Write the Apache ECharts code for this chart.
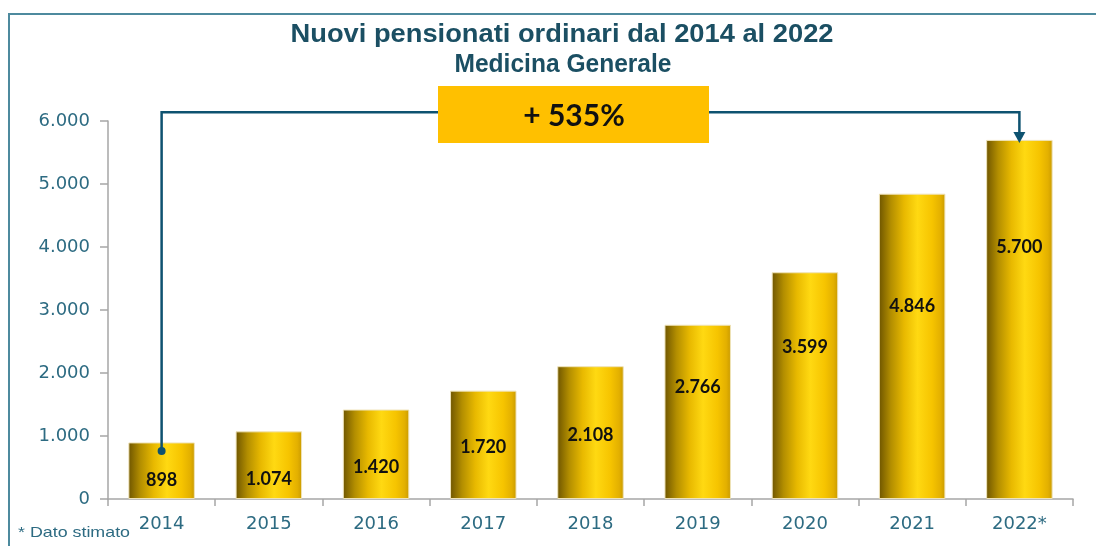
<!DOCTYPE html>
<html>
<head>
<meta charset="utf-8">
<script src="https://cdn.jsdelivr.net/npm/echarts@6/dist/echarts.min.js"></script>
<style>
html,body{margin:0;padding:0;background:#fff;}
#c{width:1096px;height:546px;}
</style>
</head>
<body>
<div id="c"></div>
<script>
const categories = ['2014','2015','2016','2017','2018','2019','2020','2021','2022*'];
const values = [898, 1074, 1420, 1720, 2108, 2766, 3599, 4846, 5700];
const yTicks = [0, 1000, 2000, 3000, 4000, 5000, 6000];
const growthLabel = '+ 535%';
const titleLines = ['Nuovi pensionati ordinari dal 2014 al 2022', 'Medicina Generale'];
const footnote = '* Dato stimato';
// label placement inside each bar (percent from bar top)
const labelPct = [66, 71, 64, 52, 52, 36, 33, 37, 30];

function fmt(v){ return String(v).replace(/\B(?=(\d{3})+(?!\d))/g, '.'); }

function measure(text, font){
  const c = document.createElement('canvas').getContext('2d');
  c.font = font; return c.measureText(text).width;
}

const chart = echarts.init(document.getElementById('c'));
const barGrad = new echarts.graphic.LinearGradient(0,0,1,0,[
  {offset:0, color:'#6e5500'},
  {offset:0.18, color:'#b38e00'},
  {offset:0.38, color:'#e8b900'},
  {offset:0.58, color:'#ffd912'},
  {offset:0.8, color:'#f6c400'},
  {offset:0.93, color:'#e3b000'},
  {offset:1, color:'#c99a00'}
]);

const axisFont = 'DejaVu Sans';
chart.setOption({
  animation:false,
  grid:{left:108, right:23, top:121, bottom:47},
  xAxis:{
    type:'category', data:categories, boundaryGap:true,
    axisLine:{lineStyle:{color:'#a6a6a6', width:1.5}},
    axisTick:{show:true, length:7, lineStyle:{color:'#a6a6a6', width:1.5}},
    axisLabel:{fontFamily:axisFont, fontSize:18, color:'#2d6b82', margin:16}
  },
  yAxis:{
    type:'value', min:0, max:6000, interval:1000,
    axisLine:{show:true, lineStyle:{color:'#a6a6a6', width:1.5}},
    axisTick:{show:true, length:8, lineStyle:{color:'#a6a6a6', width:1.5}},
    splitLine:{show:false},
    axisLabel:{fontFamily:axisFont, fontSize:18, color:'#2d6b82', margin:18,
      formatter:function(v){ return yTicks.indexOf(v)>=0 ? fmt(v) : ''; }}
  },
  series:[{
    type:'bar', barWidth:'62%',
    data: values.map(function(v,i){
      return {value:v, label:{position:['50%', labelPct[i]+'%']}};
    }),
    itemStyle:{color:barGrad, borderColor:'#efe3b8', borderWidth:1},
    label:{show:true, align:'center', verticalAlign:'middle',
      fontFamily:'Lato', fontWeight:'bold', fontSize:18, color:'#111',
      formatter:function(p){ return fmt(p.value); }}
  }]
});

function drawAnnot(){
  const p0 = chart.convertToPixel({seriesIndex:0}, [0, values[0]]);
  const pN = chart.convertToPixel({seriesIndex:0}, [values.length-1, values[values.length-1]]);
  const dotY = chart.convertToPixel({yAxisIndex:0}, values[0]*0.85);
  const topY = chart.convertToPixel({yAxisIndex:0}, 6140);
  const tipY = pN[1] + 3;
  const col = '#0e5270';
  const tFont = 'bold 26px "Liberation Sans"';
  const s1 = 543 / measure(titleLines[0], tFont);
  const s2 = 217 / measure(titleLines[1], tFont);
  const fFont = '15px "Liberation Sans"';
  const sf = 112 / measure(footnote, fFont);
  chart.setOption({
    graphic:[
      {type:'rect', shape:{x:9, y:14, width:1200, height:600}, style:{fill:'none', stroke:'#4d8a9e', lineWidth:2}, silent:true, z:0},
      {type:'text', x:562, y:35, scaleX:s1, originX:0, style:{text:titleLines[0], fontFamily:'Liberation Sans', fontWeight:'bold', fontSize:26, fill:'#1b4f63', align:'center', verticalAlign:'middle'}, z:13},
      {type:'text', x:563, y:65, scaleX:s2, originX:0, style:{text:titleLines[1], fontFamily:'Liberation Sans', fontWeight:'bold', fontSize:26, fill:'#1b4f63', align:'center', verticalAlign:'middle'}, z:13},
      {type:'polyline', shape:{points:[[p0[0], dotY],[p0[0], topY],[pN[0], topY],[pN[0], tipY-9]]}, style:{stroke:col, lineWidth:2.5, fill:'none'}, z:10},
      {type:'circle', shape:{cx:p0[0], cy:dotY, r:4}, style:{fill:col}, z:11},
      {type:'polygon', shape:{points:[[pN[0]-6, tipY-11],[pN[0]+6, tipY-11],[pN[0], tipY]]}, style:{fill:col}, z:11},
      {type:'rect', shape:{x:438, y:86, width:271, height:57}, style:{fill:'#ffc000'}, z:12},
      {type:'text', x:574, y:116, style:{text:growthLabel, fontFamily:'Lato', fontWeight:'bold', fontSize:30, fill:'#111', align:'center', verticalAlign:'middle'}, z:13},
      {type:'text', x:18, y:533, scaleX:sf, originX:0, style:{text:footnote, fontFamily:'Liberation Sans', fontSize:15, fill:'#2d6b82', align:'left', verticalAlign:'middle'}, z:13}
    ]
  });
}
drawAnnot();
</script>
</body>
</html>
